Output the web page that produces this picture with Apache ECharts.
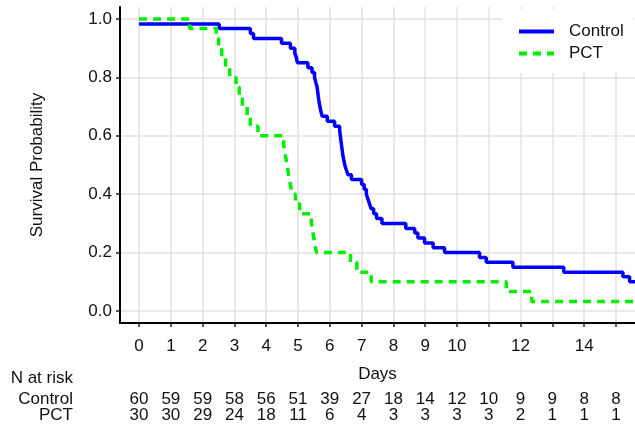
<!DOCTYPE html>
<html><head><meta charset="utf-8">
<script src="https://cdn.jsdelivr.net/npm/echarts@6/dist/echarts.min.js"></script>
<style>html,body{margin:0;padding:0;background:#fff}#chart{width:635px;height:427px}</style>
</head><body><div id="chart"></div>
<script>
// Kaplan-Meier step data (time in days, survival probability)
const controlTime = [0, 2.52, 3.50, 3.60, 4.48, 4.76, 4.90, 4.95, 4.98, 5.31, 5.44, 5.52, 5.56, 5.60, 5.62, 5.64, 5.66, 5.69, 5.72, 5.76, 5.92, 6.15, 6.31, 6.33, 6.35, 6.37, 6.39, 6.41, 6.44, 6.47, 6.52, 6.57, 6.68, 7.00, 7.08, 7.15, 7.20, 7.25, 7.30, 7.38, 7.47, 7.64, 8.39, 8.67, 8.77, 8.98, 9.25, 9.61, 10.71, 10.92, 11.76, 13.36, 15.22, 15.43, 15.6];
const controlSurv = [0.983, 0.967, 0.950, 0.933, 0.917, 0.900, 0.883, 0.867, 0.850, 0.833, 0.817, 0.800, 0.783, 0.767, 0.750, 0.733, 0.717, 0.700, 0.683, 0.667, 0.650, 0.633, 0.617, 0.600, 0.583, 0.567, 0.550, 0.533, 0.517, 0.500, 0.483, 0.467, 0.450, 0.433, 0.417, 0.400, 0.383, 0.367, 0.350, 0.333, 0.317, 0.300, 0.283, 0.267, 0.250, 0.233, 0.217, 0.200, 0.183, 0.167, 0.150, 0.133, 0.117, 0.100, 0.100];
const pctTime = [0, 1.59, 2.43, 2.50, 2.60, 2.72, 2.85, 3.05, 3.15, 3.25, 3.40, 3.50, 3.74, 4.55, 4.60, 4.66, 4.70, 4.76, 4.82, 4.92, 5.05, 5.42, 5.47, 5.52, 5.58, 6.65, 6.85, 7.30, 11.55, 12.35, 15.6];
const pctSurv = [1.000, 0.967, 0.933, 0.900, 0.867, 0.833, 0.800, 0.767, 0.733, 0.700, 0.667, 0.633, 0.600, 0.567, 0.533, 0.500, 0.467, 0.433, 0.400, 0.367, 0.333, 0.300, 0.267, 0.233, 0.200, 0.167, 0.133, 0.100, 0.067, 0.033, 0.033];

// Number at risk table
const riskTimes = [0, 1, 2, 3, 4, 5, 6, 7, 8, 9, 10, 11, 12, 13, 14, 15];
const controlRisk = [60, 59, 59, 58, 56, 51, 39, 27, 18, 14, 12, 10, 9, 9, 8, 8];
const pctRisk = [30, 30, 29, 24, 18, 11, 6, 4, 3, 3, 3, 3, 2, 1, 1, 1];

// Tick values / labels
const xTickValues = [0, 1, 2, 3, 4, 5, 6, 7, 8, 9, 10, 11, 12, 13, 14, 15];
const xLabelValues = [0, 1, 2, 3, 4, 5, 6, 7, 8, 9, 10, 12, 14];
const yTickValues = [0, 0.2, 0.4, 0.6, 0.8, 1.0];
const seriesNames = ['Control', 'PCT'];

const FONT = 'Liberation Sans, Arial, sans-serif';
const TXT = '#111';
const XMIN = -0.6, XMAX = 15.6;

function riskAxis(name, values, offset) {
  return {
    type: 'value', min: XMIN, max: XMAX, position: 'bottom', offset: offset,
    axisLine: { show: false, onZero: false }, axisTick: { show: false }, splitLine: { show: false },
    axisLabel: {
      show: values !== null, customValues: riskTimes, margin: 0, verticalAlign: 'middle',
      fontSize: 17, color: TXT, fontFamily: FONT,
      formatter: v => values ? String(values[riskTimes.indexOf(Math.round(v))]) : ''
    },
    name: name, nameLocation: 'start', nameGap: 47,
    nameTextStyle: { fontSize: 17, color: TXT, fontFamily: FONT, align: 'right', verticalAlign: 'middle' }
  };
}

const chart = echarts.init(document.getElementById('chart'), null, { renderer: 'canvas' });
chart.setOption({
  animation: false,
  backgroundColor: '#fff',
  textStyle: { fontFamily: FONT },
  grid: { left: 120, right: 0, top: 7, bottom: 104 },
  legend: {
    orient: 'vertical', left: 502, top: 9, backgroundColor: '#fff',
    padding: [14, 10, 11, 15], itemWidth: 35, itemHeight: 14, itemGap: 5,
    itemStyle: { opacity: 0, color: 'transparent', borderColor: 'transparent', borderWidth: 0 },
    lineStyle: { width: 4 },
    textStyle: { fontSize: 17, color: TXT, fontFamily: FONT, padding: [0, 0, 0, 10] },
    data: seriesNames
  },
  xAxis: [
    {
      type: 'value', min: XMIN, max: XMAX, position: 'bottom',
      axisLine: { show: true, onZero: false, lineStyle: { color: '#000', width: 2 } },
      axisTick: { show: true, length: 4, customValues: xTickValues, lineStyle: { color: '#222', width: 1.5 } },
      axisLabel: { customValues: xLabelValues, margin: 23, verticalAlign: 'middle', fontSize: 17, color: TXT, fontFamily: FONT },
      splitLine: { show: true, lineStyle: { color: '#e2e2e2', width: 1.5 } },
      name: 'Days', nameLocation: 'middle', nameGap: 51,
      nameTextStyle: { fontSize: 17, color: TXT, fontFamily: FONT, verticalAlign: 'middle' }
    },
    riskAxis('N at risk', null, 55),
    riskAxis('Control', controlRisk, 76.5),
    riskAxis('PCT', pctRisk, 92)
  ],
  yAxis: {
    type: 'value', min: -0.041, max: 1.041,
    axisLine: { show: true, onZero: false, lineStyle: { color: '#000', width: 2 } },
    axisTick: { show: true, length: 4, customValues: yTickValues, lineStyle: { color: '#222', width: 1.5 } },
    axisLabel: { customValues: yTickValues, formatter: v => v.toFixed(1), margin: 8, fontSize: 17, color: TXT, fontFamily: FONT },
    splitLine: { show: true, lineStyle: { color: '#e2e2e2', width: 1.5 } },
    name: 'Survival Probability', nameLocation: 'middle', nameGap: 83,
    nameTextStyle: { fontSize: 17, color: TXT, fontFamily: FONT, verticalAlign: 'middle' }
  },
  series: [
    {
      type: 'line', name: seriesNames[0], step: 'end', symbol: 'none', xAxisIndex: 0,
      data: controlTime.map((t, i) => [t, controlSurv[i]]),
      lineStyle: { color: '#0000ff', width: 3.5 }, itemStyle: { color: '#0000ff' }
    },
    {
      type: 'line', name: seriesNames[1], step: 'end', symbol: 'none', xAxisIndex: 0,
      data: pctTime.map((t, i) => [t, pctSurv[i]]),
      lineStyle: { color: '#00ee00', width: 3.5, type: [8, 6], cap: 'butt' }, itemStyle: { color: '#00ee00' }
    }
  ]
});
</script></body></html>
